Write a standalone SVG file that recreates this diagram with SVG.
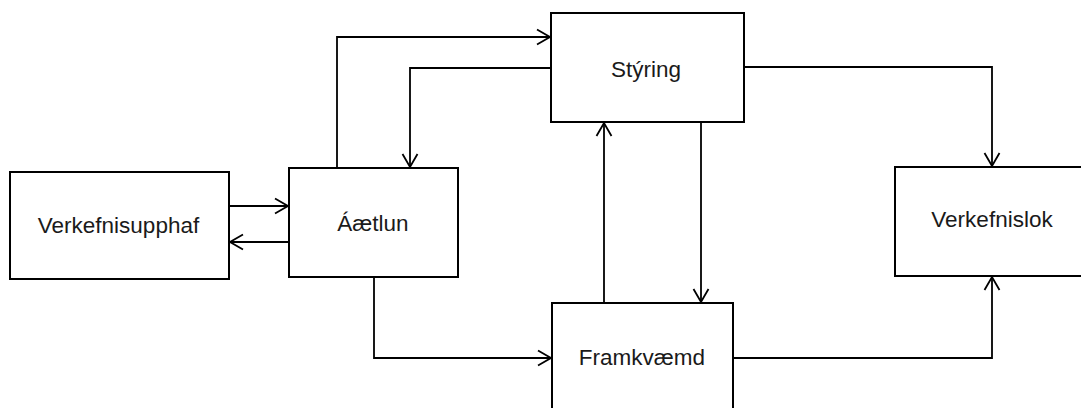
<svg xmlns="http://www.w3.org/2000/svg" width="1081" height="408" viewBox="0 0 1081 408">
<style>
.box{fill:#fff;stroke:#000;stroke-width:2}
.lbl{font-family:"Liberation Sans",Arial,sans-serif;font-size:22.5px;fill:#1a1a1a;text-anchor:middle}
.con{fill:none;stroke:#000;stroke-width:1.8}
</style>
<defs>
<marker id="arr" markerUnits="userSpaceOnUse" markerWidth="16" markerHeight="18" viewBox="0 0 16 18" refX="14" refY="9" orient="auto">
<path d="M1,1.5 L14,9 L1,16.5" fill="none" stroke="#000" stroke-width="1.8"/>
</marker>
</defs>
<rect width="1081" height="408" fill="#fff"/>
<g id="connectors">
<path class="con" d="M229,206 H288" marker-end="url(#arr)"/>
<path class="con" d="M289,242 H230" marker-end="url(#arr)"/>
<path class="con" d="M337,168 V37 H550" marker-end="url(#arr)"/>
<path class="con" d="M551,68 H410 V167" marker-end="url(#arr)"/>
<path class="con" d="M604,303 V123" marker-end="url(#arr)"/>
<path class="con" d="M701,122 V302" marker-end="url(#arr)"/>
<path class="con" d="M744,67 H992 V166" marker-end="url(#arr)"/>
<path class="con" d="M374,277 V358 H551" marker-end="url(#arr)"/>
<path class="con" d="M733,358 H992 V277" marker-end="url(#arr)"/>
</g>
<g id="verkefnisupphaf">
<rect class="box" x="10" y="172" width="219" height="107"/>
<text class="lbl" x="118.5" y="233">Verkefnisupphaf</text>
</g>
<g id="aaetlun">
<rect class="box" x="289" y="168" width="169" height="109"/>
<text class="lbl" x="373" y="231">Áætlun</text>
</g>
<g id="styring">
<rect class="box" x="551" y="13" width="193" height="109"/>
<text class="lbl" x="646" y="77">Stýring</text>
</g>
<g id="framkvaemd">
<rect class="box" x="552" y="303" width="181" height="110"/>
<text class="lbl" x="642" y="365">Framkvæmd</text>
</g>
<g id="verkefnislok">
<rect class="box" x="895" y="167" width="190" height="109"/>
<text class="lbl" x="992" y="227">Verkefnislok</text>
</g>
</svg>
